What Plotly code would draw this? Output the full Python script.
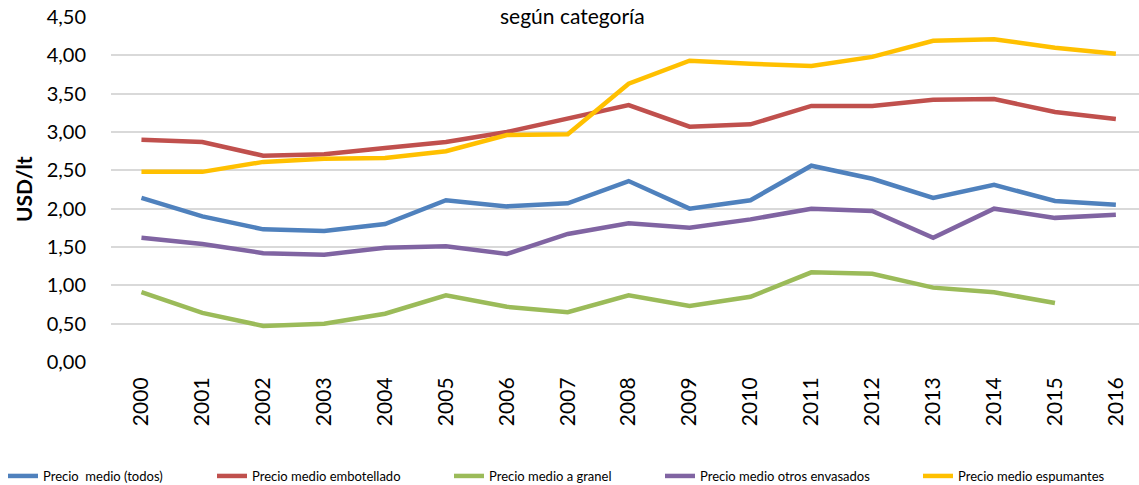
import plotly.graph_objects as go

years = [str(y) for y in range(2000, 2017)]

precio_todos = [2.14, 1.90, 1.73, 1.71, 1.80, 2.11, 2.03, 2.07, 2.36, 2.00, 2.11, 2.56, 2.39, 2.14, 2.31, 2.10, 2.05]
precio_embotellado = [2.90, 2.87, 2.69, 2.71, 2.79, 2.87, 3.00, 3.18, 3.35, 3.07, 3.10, 3.34, 3.34, 3.42, 3.43, 3.26, 3.17]
precio_granel = [0.91, 0.64, 0.47, 0.50, 0.63, 0.87, 0.72, 0.65, 0.87, 0.73, 0.85, 1.17, 1.15, 0.97, 0.91, 0.77, None]
precio_otros = [1.62, 1.54, 1.42, 1.40, 1.49, 1.51, 1.41, 1.67, 1.81, 1.75, 1.86, 2.00, 1.97, 1.62, 2.00, 1.88, 1.92]
precio_espumantes = [2.48, 2.48, 2.61, 2.65, 2.66, 2.75, 2.96, 2.97, 3.63, 3.93, 3.89, 3.86, 3.98, 4.19, 4.21, 4.10, 4.02]

series = [
    ("Precio  medio (todos)", precio_todos, "#4F81BD"),
    ("Precio medio embotellado", precio_embotellado, "#C0504D"),
    ("Precio medio a granel", precio_granel, "#9BBB59"),
    ("Precio medio otros envasados", precio_otros, "#8064A2"),
    ("Precio medio espumantes", precio_espumantes, "#FFC000"),
]

y_ticks = [i * 0.5 for i in range(10)]
y_tick_text = [f"{v:.2f}".replace(".", ",") for v in y_ticks]

FONT = "Lato, 'Open Sans', sans-serif"
W, H = 1139, 485
PLOT_L, PLOT_T, PLOT_B = 111, 17, 362
PLOT_W, PLOT_H = W - PLOT_L, PLOT_B - PLOT_T

# legend line-sample start positions (px), one legend box per series like Excel spreads them
legend_px = [8, 217, 454, 665, 923]

fig = go.Figure()
for i, (name, vals, color) in enumerate(series):
    fig.add_trace(
        go.Scatter(
            x=list(range(len(years))),
            y=vals,
            name=name,
            mode="lines",
            line=dict(color=color, width=4.5),
            connectgaps=False,
            legend="legend" if i == 0 else f"legend{i + 1}",
        )
    )

fig.update_xaxes(
    range=[-0.5, 16.38],
    tickmode="array",
    tickvals=list(range(len(years))),
    ticktext=years,
    tickangle=-90,
    tickfont=dict(size=21, color="#000000"),
    showgrid=False,
    zeroline=False,
    showline=False,
    ticks="outside",
    ticklen=6,
    tickcolor="rgba(0,0,0,0)",
    ticklabeloverflow="allow",
    automargin=False,
)
fig.update_yaxes(
    range=[0, 4.5],
    tickmode="array",
    tickvals=y_ticks,
    ticktext=y_tick_text,
    tickfont=dict(size=20, color="#000000"),
    showgrid=True,
    gridcolor="#D9D9D9",
    gridwidth=1.5,
    zeroline=False,
    ticks="outside",
    ticklen=20,
    tickcolor="rgba(0,0,0,0)",
    ticklabeloverflow="allow",
    automargin=False,
)

# title sits half out of frame in the original; keep it whole, pushed to the top edge
fig.add_annotation(
    text="según categoría",
    xref="paper", yref="paper",
    x=(572 - PLOT_L) / PLOT_W, y=(PLOT_B - 1) / PLOT_H,
    xanchor="center", yanchor="top",
    showarrow=False,
    font=dict(size=21, color="#000000", family=FONT),
)
fig.add_annotation(
    text="<b>USD/lt</b>",
    xref="paper", yref="paper",
    x=(23 - PLOT_L) / PLOT_W, y=(PLOT_B - 189) / PLOT_H,
    xanchor="center", yanchor="middle",
    textangle=-90,
    showarrow=False,
    font=dict(size=21, color="#000000", family=FONT),
)

legend_base = dict(
    orientation="h",
    xref="container", yref="container",
    y=(H - 476) / H,
    xanchor="left", yanchor="middle",
    font=dict(size=13, color="#000000"),
    bgcolor="rgba(0,0,0,0)",
)
layout_legends = {}
for i, px in enumerate(legend_px):
    key = "legend" if i == 0 else f"legend{i + 1}"
    layout_legends[key] = dict(legend_base, x=max(px - 5, 0) / W)

fig.update_layout(
    width=W,
    height=H,
    template="plotly_white",
    plot_bgcolor="white",
    paper_bgcolor="white",
    font=dict(family=FONT, color="#000000"),
    margin=dict(l=PLOT_L, r=0, t=PLOT_T, b=H - PLOT_B, autoexpand=False),
    showlegend=True,
    **layout_legends,
)

# drop the default page margin so the figure fills the window exactly
fig.write_html(
    "out.html",
    config={"displayModeBar": False},
    post_script="document.body.style.margin='0';",
)
